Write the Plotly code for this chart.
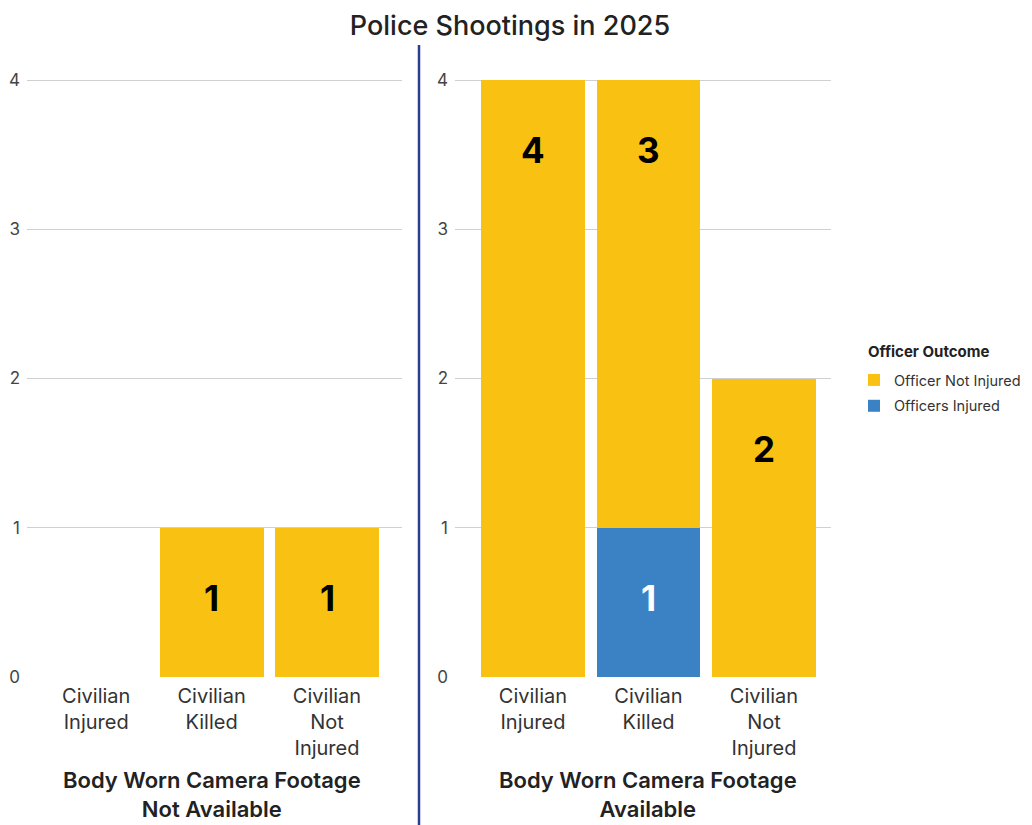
import plotly.graph_objects as go

categories = ["Civilian<br>Injured", "Civilian<br>Killed", "Civilian<br>Not<br>Injured"]
panel_titles = ["Body Worn Camera Footage<br>Not Available", "Body Worn Camera Footage<br>Available"]

# Not available panel
na_not_injured = [0, 1, 1]
na_injured = [0, 0, 0]
# Available panel
av_not_injured = [4, 3, 2]
av_injured = [0, 1, 0]

yticks = [0, 1, 2, 3, 4]

YELLOW = "#F9C112"
BLUE = "#3B82C4"
FONT = "Inter"
W, H = 1032, 825
OFF = 8  # page body margin compensation


def px2x(p):
    return (p - OFF) / W


def px2y(p):
    return (H - (p - OFF)) / H


fig = go.Figure()

panels = [("x", "y", na_injured, na_not_injured), ("x2", "y2", av_injured, av_not_injured)]
for i, (xa, ya, inj, notinj) in enumerate(panels):
    fig.add_trace(go.Bar(x=categories, y=inj, xaxis=xa, yaxis=ya, marker_color=BLUE,
                         name="Officers Injured", legendgroup="inj", showlegend=(i == 1),
                         legendrank=2, width=0.9, marker_line_width=0, hoverinfo="skip"))
    fig.add_trace(go.Bar(x=categories, y=notinj, xaxis=xa, yaxis=ya, marker_color=YELLOW,
                         name="Officer Not Injured", legendgroup="ninj", showlegend=(i == 1),
                         legendrank=1, width=0.9, marker_line_width=0, hoverinfo="skip"))
    # value labels
    for j, cat in enumerate(categories):
        base = 0
        for val, col in ((inj[j], "white"), (notinj[j], "black")):
            if val > 0:
                top = base + val
                fig.add_annotation(x=j, y=top - 0.47, xref=xa, yref=ya, text=f"<b>{val}</b>",
                                   showarrow=False, font=dict(family=FONT, size=35, color=col, weight=900))
            base += val
    # panel title
    fig.add_annotation(x=1, xref=xa, y=px2y(794), yref="paper", text=panel_titles[i],
                       showarrow=False, font=dict(family=FONT, size=22, color="#222", weight=600),
                       yanchor="middle", xanchor="center")

unit = (677 - 80) / 4.0
ytop = 4.2
ydom = [px2y(677), px2y(677 - ytop * unit)]

axis_common = dict(type="category", showgrid=False, zeroline=False, showline=False, automargin=False,
                   tickfont=dict(family=FONT, size=20, color="#333"), ticks="", ticklabelstandoff=5,
                   fixedrange=True)
yaxis_common = dict(range=[0, ytop], tickvals=yticks, showgrid=True, gridcolor="#d0d0d0", gridwidth=1,
                    zeroline=False, showline=False, automargin=False,
                    tickfont=dict(family=FONT, size=17, color="#444"),
                    ticks="", ticklabelstandoff=6, domain=ydom, fixedrange=True)

fig.update_layout(
    width=W, height=H,
    margin=dict(l=0, r=0, t=0, b=0, autoexpand=False),
    paper_bgcolor="white", plot_bgcolor="white",
    barmode="stack", bargap=0.1,
    title=dict(text="Police Shootings in 2025", x=px2x(510), xanchor="center", y=px2y(26), yanchor="middle",
               font=dict(family=FONT, size=27, color="#222", weight=500)),
    xaxis=dict(axis_common, domain=[px2x(27), px2x(402)], range=[-0.6, 2.65], anchor="y"),
    xaxis2=dict(axis_common, domain=[px2x(455), px2x(831)], range=[-0.675, 2.58], anchor="y2"),
    yaxis=dict(yaxis_common, anchor="x"),
    yaxis2=dict(yaxis_common, anchor="x2"),
    legend=dict(font=dict(family=FONT, size=14.5, color="#333"), x=px2x(854), xanchor="left",
                y=px2y(364), yanchor="top", bgcolor="rgba(0,0,0,0)", tracegroupgap=4,
                itemwidth=30, itemclick=False, itemdoubleclick=False),
    font=dict(family=FONT),
    showlegend=True,
)

fig.add_annotation(text="<b>Officer Outcome</b>", xref="paper", yref="paper", x=px2x(866), y=px2y(351),
                   xanchor="left", yanchor="middle", showarrow=False,
                   font=dict(family=FONT, size=15, color="#222"))

fig.add_shape(type="line", xref="paper", yref="paper", x0=px2x(419), x1=px2x(419), y0=-0.02, y1=px2y(45),
              line=dict(color="#2B3F8C", width=2.5))

fig.write_html("out.html")
